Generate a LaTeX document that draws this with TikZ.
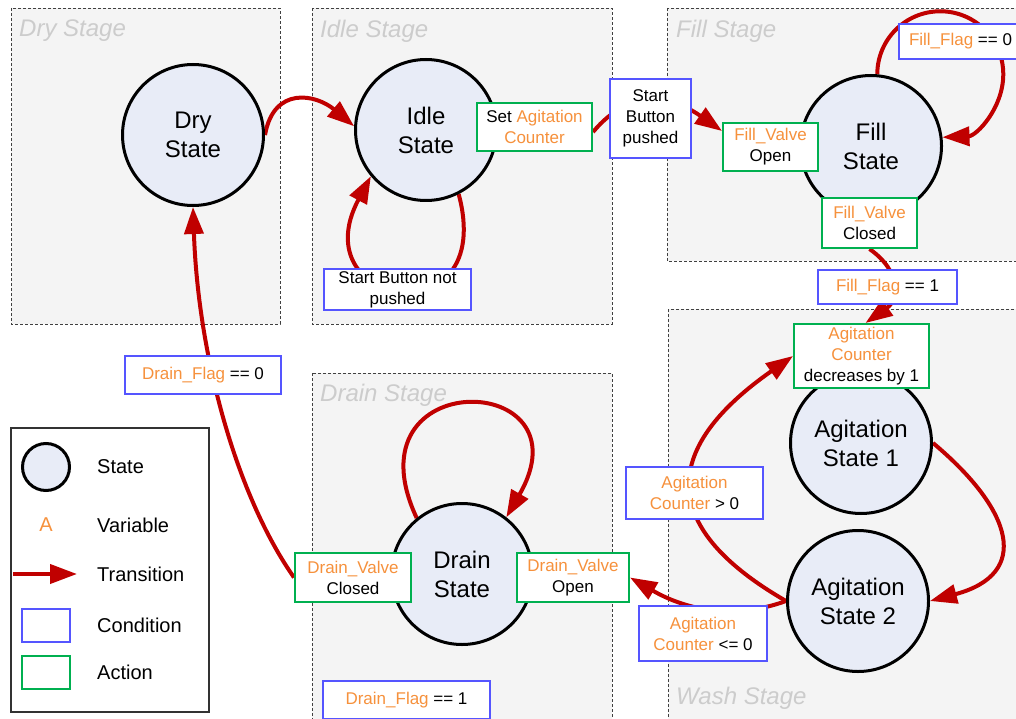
\documentclass[tikz,border=0pt]{standalone}
\usepackage{fontspec}
\setmainfont{Liberation Sans}
\usetikzlibrary{arrows.meta, automata, positioning}
\definecolor{transred}{RGB}{192,0,0}
\definecolor{varorange}{RGB}{246,145,60}
\definecolor{condblue}{RGB}{85,85,255}
\definecolor{actgreen}{RGB}{0,176,80}
\definecolor{statefill}{RGB}{232,236,247}
\definecolor{stagefill}{RGB}{244,244,244}
\definecolor{stagetext}{RGB}{204,204,204}
\newcommand{\vname}[1]{\textcolor{varorange}{#1}}
\pgfdeclarelayer{stages}
\pgfdeclarelayer{links}
\pgfsetlayers{stages,links,main}

\begin{document}
\begin{tikzpicture}[x=1pt, y=1pt, >={Triangle[length=27pt,width=19pt]}]
    \tikzstyle{every state}=[circle,
                       draw=black,
                       line width=3pt,
                       fill=statefill,
                       minimum size=141pt,
                       inner sep=0pt,
                       align=center,
                       font=\fontsize{24}{29}\selectfont]
    \tikzstyle{stage}=[draw=black!75, dash pattern=on 3pt off 2pt, line width=0.8pt, fill=stagefill]
    \tikzstyle{stagename}=[anchor=west, inner sep=0pt, text=stagetext, font=\fontsize{24}{29}\selectfont\itshape]
    \tikzstyle{cond}=[rectangle, draw=condblue, line width=2pt, fill=white, inner sep=0pt,
                      align=center, font=\fontsize{17}{21}\selectfont]
    \tikzstyle{act}=[cond, draw=actgreen]
    \tikzstyle{trans}=[->, draw=transred, line width=4pt]
    \tikzstyle{keytext}=[anchor=west, inner sep=0pt, font=\fontsize{20}{24}\selectfont]
    \useasboundingbox (0,0) rectangle (1016,-719);

    % stages
    \begin{pgfonlayer}{stages}
    \draw[stage] (11,-8) rectangle (280,-324);
    \draw[stage] (312,-8) rectangle (612,-324);
    \draw[stage] (667,-8) rectangle (1030,-261);
    \draw[stage] (312,-373) rectangle (612,-730);
    \draw[stage] (668,-309) rectangle (1030,-730);
    \end{pgfonlayer}
    \node[stagename] (drystage)   at (19,-31)  {Dry Stage};
    \node[stagename] (idlestage)  at (320,-31) {Idle Stage};
    \node[stagename] (fillstage)  at (676,-31) {Fill Stage};
    \node[stagename] (drainstage) at (320,-395) {Drain Stage};
    \node[stagename] (washstage)  at (676,-698) {Wash Stage};

    % states
    \node[state] (dry)   at (193,-135) {Dry\\State};
    \node[state] (idle)  at (426,-130) {Idle\\State};
    \node[state] (fill)  at (871,-146) {Fill\\State};
    \node[state] (drain) at (462,-574) {Drain\\State};
    \node[state] (agone) at (861,-443) {Agitation\\State 1};
    \node[state] (agtwo) at (858,-601) {Agitation\\State 2};

    % conditions and actions
    \node[act, minimum width=115pt, minimum height=48pt]  (setac)  at (534.5,-127) {Set \vname{Agitation}\\\vname{Counter}};
    \node[cond, minimum width=81pt, minimum height=79pt]  (startbp) at (650.5,-118.5) {Start\\Button\\pushed};
    \node[cond, minimum width=147pt, minimum height=41pt] (startnot) at (397.5,-289.5) {Start Button not\\pushed};
    \node[cond, minimum width=123pt, minimum height=35pt] (fillflagzero) at (960.5,-41.5) {\vname{Fill\_Flag} == 0};
    \node[act, minimum width=95pt, minimum height=48pt]   (fillopen) at (770.5,-147) {\vname{Fill\_Valve}\\Open};
    \node[act, minimum width=95pt, minimum height=50pt]   (fillclosed) at (869.5,-223) {\vname{Fill\_Valve}\\Closed};
    \node[cond, minimum width=139pt, minimum height=34pt] (fillflagone) at (887.5,-287) {\vname{Fill\_Flag} == 1};
    \node[act, minimum width=135pt, minimum height=64pt]  (agdec) at (861.5,-356) {\vname{Agitation}\\\vname{Counter}\\decreases by 1};
    \node[cond, minimum width=137pt, minimum height=52pt] (aggt) at (694.5,-493) {\vname{Agitation}\\\vname{Counter} > 0};
    \node[cond, minimum width=128pt, minimum height=55pt] (agle) at (703,-633.5) {\vname{Agitation}\\\vname{Counter} <= 0};
    \node[act, minimum width=112pt, minimum height=49pt]  (drainopen) at (573,-577.5) {\vname{Drain\_Valve}\\Open};
    \node[act, minimum width=116pt, minimum height=49pt]  (drainclosed) at (353,-577.5) {\vname{Drain\_Valve}\\Closed};
    \node[cond, minimum width=167pt, minimum height=38pt] (drainflagone) at (406.5,-700) {\vname{Drain\_Flag} == 1};
    \node[cond, minimum width=156pt, minimum height=38pt] (drainflagzero) at (203,-375) {\vname{Drain\_Flag} == 0};

    % transitions
    \begin{pgfonlayer}{links}
    \draw[trans] (dry.east) to[out=80, in=140, distance=50pt] (idle.177);
    \draw[trans] (idle.-63) to[out=-75, in=-118, distance=150pt] (idle.-140);
    \draw[trans] ([yshift=-5pt]setac.east) to[out=50, in=145, distance=60pt] ([yshift=16pt]fillopen.west);
    \draw[trans] (fill.85) arc[start angle=180, end angle=-88, radius=63pt];
    \draw[trans] (fillclosed.south) to[out=-35, in=35, distance=40pt] ([xshift=4pt]agdec.north);
    \draw[trans] (agtwo.west) to[out=150, in=-145, distance=155pt] (agdec.west);
    \draw[trans] (agone.east) to[out=-40, in=15, distance=105pt] (agtwo.east);
    \draw[trans] (agtwo.west) to[out=200, in=-30, distance=60pt] (drainopen.east);
    \draw[trans] (drain.129) to[out=115, in=60, distance=170pt] (drain.52);
    \draw[trans] (drainclosed.west) to[out=125, in=-88, out distance=100pt, in distance=150pt] (dry.south);
    \end{pgfonlayer}

    % legend
    \node[draw=black!80, line width=1.2pt, minimum width=198pt, minimum height=284pt, inner sep=0pt] (legend) at (110,-570) {};
    \node[state, minimum size=47pt] (keystate) at (46,-467) {};
    \node[keytext, anchor=center] (keyvar) at (46,-525) {\vname{A}};
    \coordinate (keyfrom) at (13,-574);
    \coordinate (keyto) at (77,-574);
    \draw[trans] (keyfrom) -- (keyto);
    \node[cond, minimum width=48pt, minimum height=33pt] (keycond) at (46,-625.5) {};
    \node[act, minimum width=48pt, minimum height=33pt] (keyact) at (46,-672.5) {};
    \node[keytext] (keystatetext) at (97,-467) {State};
    \node[keytext] (keyvartext)   at (97,-525) {Variable};
    \node[keytext] (keytranstext) at (97,-574) {Transition};
    \node[keytext] (keycondtext)  at (97,-625) {Condition};
    \node[keytext] (keyacttext)   at (97,-672) {Action};
\end{tikzpicture}
\end{document}
